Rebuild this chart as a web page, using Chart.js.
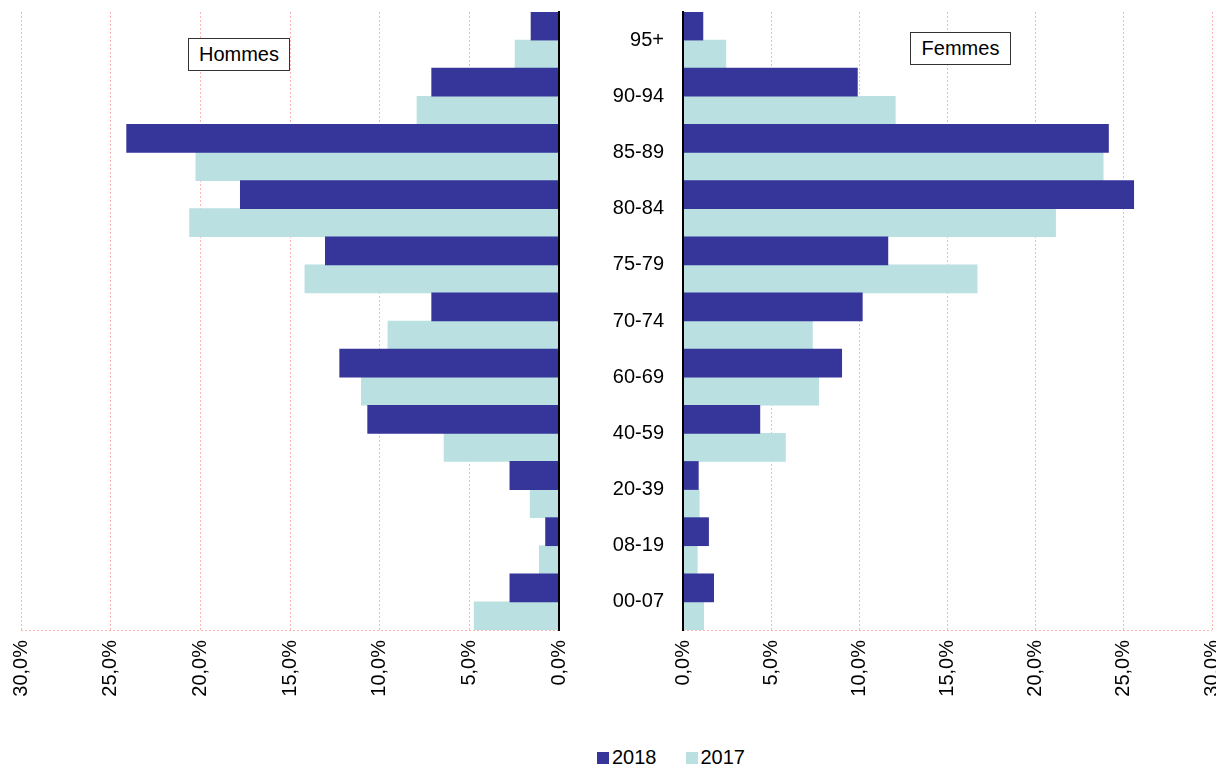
<!DOCTYPE html>
<html>
<head>
<meta charset="utf-8">
<script src="https://cdn.jsdelivr.net/npm/chart.js@4"></script>
<style>
  html, body { margin: 0; padding: 0; background: #fff; overflow: hidden; }
  body { width: 1216px; height: 769px; position: relative; font-family: 'Liberation Sans', Arial, sans-serif; }
  .wrap { position: absolute; top: 0; height: 720px; }
  #wrapH { left: 0; width: 600px; }
  #wrapF { left: 560px; width: 686px; }
  .tag { position: absolute; border: 1px solid #333; background: #fff; font-size: 20px; line-height: 31px; text-align: center; color: #000; }
  .legend { position: absolute; top: 746px; left: 597px; font-size: 20px; color: #000; white-space: nowrap; }
  .legend span.sw { display: inline-block; width: 12px; height: 12px; margin-right: 3px; vertical-align: 0px; }
</style>
</head>
<body>
<div class="wrap" id="wrapH"><canvas id="hommes"></canvas></div>
<div class="wrap" id="wrapF"><canvas id="femmes"></canvas></div>
<div class="tag" style="left:188px;top:38px;width:100px;height:31px;">Hommes</div>
<div class="tag" style="left:910px;top:32px;width:99px;height:31px;">Femmes</div>
<div class="legend"><span class="sw" style="background:#35359a"></span>2018<span style="display:inline-block;width:29px"></span><span class="sw" style="background:#bae0e2"></span>2017</div>
<script>
// age bands, top to bottom
var AGES = ['95+', '90-94', '85-89', '80-84', '75-79', '70-74', '60-69', '40-59', '20-39', '08-19', '00-07'];
// share in %
var H2018 = [1.56, 7.10, 24.11, 17.77, 13.03, 7.10, 12.23, 10.67, 2.74, 0.75, 2.74];
var H2017 = [2.45, 7.92, 20.25, 20.60, 14.17, 9.54, 11.02, 6.41, 1.61, 1.10, 4.73];
var F2018 = [1.13, 9.89, 24.13, 25.56, 11.62, 10.17, 9.00, 4.36, 0.87, 1.45, 1.74];
var F2017 = [2.43, 12.04, 23.83, 21.13, 16.68, 7.34, 7.70, 5.81, 0.92, 0.81, 1.17];
var DARK = '#35359a', LIGHT = '#bae0e2', GRID = '#ffb4b4';
var FONT = { family: "'Liberation Sans', Arial, sans-serif", size: 20 };

function pct(v) { return v.toFixed(1).replace('.', ',') + '%'; }

// dotted line along the bottom of the plot
var bottomLine = {
  id: 'bottomLine',
  beforeDatasetsDraw: function (c) {
    var a = c.chartArea, ctx = c.ctx;
    ctx.save(); ctx.strokeStyle = GRID; ctx.lineWidth = 1; ctx.setLineDash([2, 2]);
    ctx.beginPath(); ctx.moveTo(a.left, a.bottom + 0.5); ctx.lineTo(a.right, a.bottom + 0.5); ctx.stroke();
    ctx.restore();
  }
};

function pyramid(id, d18, d17, left) {
  return new Chart(document.getElementById(id), {
    type: 'bar',
    data: { labels: AGES, datasets: [
      { label: '2018', data: d18, backgroundColor: DARK, categoryPercentage: 1, barPercentage: 1 },
      { label: '2017', data: d17, backgroundColor: LIGHT, categoryPercentage: 1, barPercentage: 1 }
    ] },
    options: {
      indexAxis: 'y', responsive: true, maintainAspectRatio: false, animation: false,
      layout: { padding: left ? { top: 12, left: 21, right: 41, bottom: 0 } : { top: 12, left: 0, right: 27, bottom: 0 } },
      plugins: { legend: { display: false }, tooltip: { enabled: false } },
      scales: {
        x: {
          min: 0, max: 30, reverse: left,
          afterFit: function (s) { s.height = 90; },
          grid: { color: GRID, lineWidth: 1, drawTicks: false },
          border: { display: false, dash: [2, 2] },
          ticks: { stepSize: 5, minRotation: 90, maxRotation: 90, padding: 10, color: '#000', font: FONT, callback: function (v) { return pct(v); } }
        },
        y: {
          position: left ? 'right' : 'left',
          afterFit: function (s) { s.width = left ? 0 : 123; s.paddingTop = 0; s.paddingBottom = 0; },
          grid: { display: false, drawTicks: false },
          border: { display: true, color: '#000', width: 2, z: 1 },
          ticks: { display: !left, padding: 19, color: '#000', font: FONT }
        }
      }
    },
    plugins: [bottomLine]
  });
}

pyramid('hommes', H2018, H2017, true);
pyramid('femmes', F2018, F2017, false);
</script>
</body>
</html>
